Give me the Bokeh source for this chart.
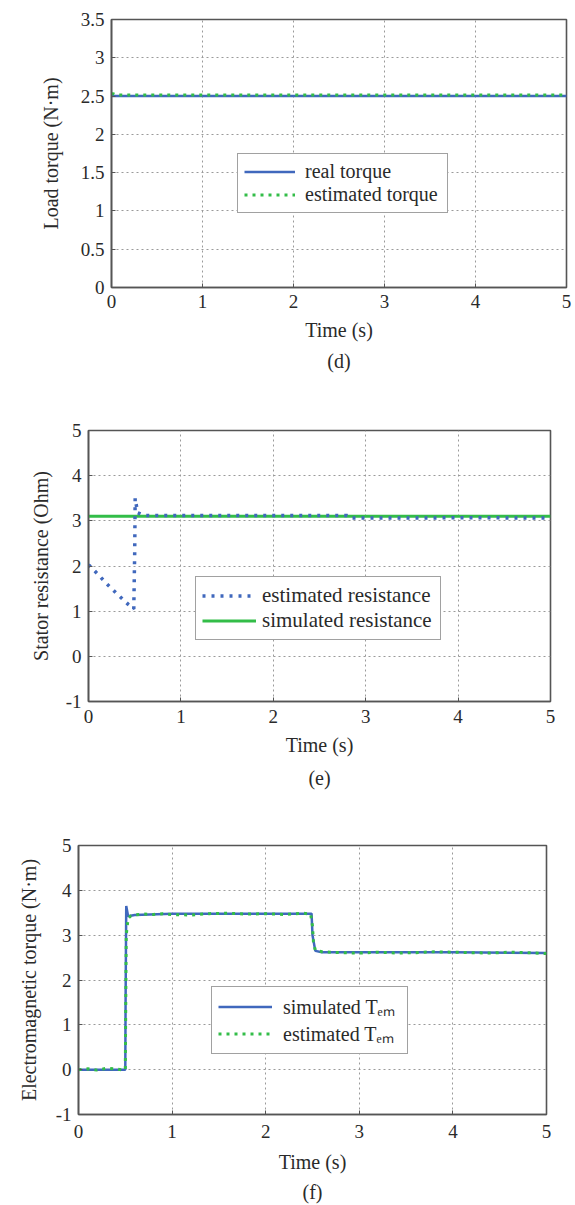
from bokeh.plotting import figure
from bokeh.models import (Legend, LegendItem, LinearAxis, FixedTicker, Range1d)
from bokeh.embed import file_html
from bokeh.resources import INLINE

# ---------------- data ----------------
# (d) load torque
t_d_real = [0.0, 5.0]
torque_real = [2.5, 2.5]
t_d_est = [0.0, 0.02, 0.05, 5.0]
torque_est = [2.53, 2.53, 2.515, 2.515]

# (e) stator resistance
t_e_est = [0.0, 0.1, 0.2, 0.3, 0.43, 0.49, 0.50, 0.505, 0.51, 0.53, 0.6, 1.0,
           2.0, 2.8, 2.85, 3.5, 4.0, 5.0]
res_est = [2.03, 1.82, 1.6, 1.4, 1.15, 1.05, 2.3, 3.5, 3.45, 3.18, 3.12, 3.12,
           3.12, 3.12, 3.06, 3.06, 3.07, 3.06]
t_e_sim = [0.0, 5.0]
res_sim = [3.1, 3.1]

# (f) electromagnetic torque
t_f_sim = [0.0, 0.5, 0.503, 0.51, 0.53, 0.6, 1.0, 2.0, 2.49, 2.5, 2.53, 2.6,
           3.0, 4.0, 5.0]
tem_sim = [0.0, 0.0, 1.5, 3.65, 3.42, 3.45, 3.48, 3.48, 3.48, 3.0, 2.65, 2.62,
           2.62, 2.62, 2.6]
t_f_est = [0.0, 0.1, 0.2, 0.3, 0.4, 0.48, 0.5, 0.505, 0.51, 0.53, 0.56, 0.6,
           0.7, 0.8, 0.9, 1.0, 1.2, 1.4, 1.6, 1.8, 2.0, 2.2, 2.4, 2.48, 2.5,
           2.51, 2.53, 2.6, 2.8, 3.0, 3.2, 3.4, 3.6, 3.8, 4.0, 4.2, 4.4, 4.6,
           4.8, 5.0]
tem_est = [0.0, 0.02, -0.01, 0.03, 0.02, -0.01, 0.0, 1.5, 3.0, 3.38, 3.43, 3.45,
           3.47, 3.46, 3.48, 3.46, 3.45, 3.48, 3.49, 3.47, 3.48, 3.46, 3.49,
           3.47, 3.2, 2.85, 2.66, 2.63, 2.61, 2.6, 2.62, 2.6, 2.61, 2.63, 2.62,
           2.61, 2.6, 2.62, 2.61, 2.59]

x_ticks = [0, 1, 2, 3, 4, 5]
x_tick_labels = ["0", "1", "2", "3", "4", "5"]
y_ticks_d = [0, 0.5, 1, 1.5, 2, 2.5, 3, 3.5]
y_tick_labels_d = ["0", "0.5", "1", "1.5", "2", "2.5", "3", "3.5"]
y_ticks_ef = [-1, 0, 1, 2, 3, 4, 5]
y_tick_labels_ef = ["-1", "0", "1", "2", "3", "4", "5"]

FONT = "'Liberation Serif', serif"
TXT = "#2a2a2a"
BLUE = "#4068bd"
GREEN = "#33bd48"
FRAME = "#555555"


def make_fig(height, b_top, b_bottom, b_left, b_right, yr, yticks, ylabels,
             ylabel, caption, ylab_standoff, tick_standoff_x, xlab_standoff,
             cap_standoff):
    p = figure(width=575, height=height, output_backend="svg",
               toolbar_location=None, x_range=Range1d(0, 5),
               y_range=Range1d(*yr), min_border_top=b_top,
               min_border_bottom=b_bottom, min_border_left=b_left,
               min_border_right=b_right)
    p.outline_line_color = FRAME
    p.outline_line_width = 1.6
    p.background_fill_color = "white"
    p.border_fill_color = "white"
    for ax in (p.xaxis[0], p.yaxis[0]):
        ax.axis_line_color = FRAME
        ax.axis_line_width = 1.6
        ax.major_tick_in = 4
        ax.major_tick_out = 0
        ax.major_tick_line_color = FRAME
        ax.minor_tick_line_color = None
        ax.major_label_text_font = FONT
        ax.major_label_text_font_size = "19px"
        ax.major_label_text_color = TXT
        ax.axis_label_text_font = FONT
        ax.axis_label_text_font_size = "20px"
        ax.axis_label_text_font_style = "normal"
        ax.axis_label_text_color = TXT
    p.xaxis[0].ticker = FixedTicker(ticks=x_ticks)
    p.xaxis[0].major_label_overrides = dict(zip(x_ticks, x_tick_labels))
    p.yaxis[0].ticker = FixedTicker(ticks=yticks)
    p.yaxis[0].major_label_overrides = dict(zip(yticks, ylabels))
    p.xaxis[0].axis_label = "Time (s)"
    p.yaxis[0].axis_label = ylabel
    p.yaxis[0].major_label_standoff = 7
    p.yaxis[0].axis_label_standoff = ylab_standoff
    p.xaxis[0].major_label_standoff = tick_standoff_x
    p.xaxis[0].axis_label_standoff = xlab_standoff
    p.grid.grid_line_color = "#9a9a9a"
    p.grid.grid_line_dash = "2 3"
    p.grid.grid_line_width = 1
    p.xgrid.ticker = FixedTicker(ticks=x_ticks)
    p.ygrid.ticker = FixedTicker(ticks=yticks)

    cap = LinearAxis(ticker=FixedTicker(ticks=[]), axis_line_color=None,
                     major_tick_line_color=None, minor_tick_line_color=None,
                     axis_label=caption,
                     axis_label_text_font=FONT, axis_label_text_font_size="20px",
                     axis_label_text_font_style="normal",
                     axis_label_text_color=TXT, axis_label_standoff=cap_standoff)
    p.add_layout(cap, "below")
    return p


def style_legend(lg, loc, glyph_w, standoff, label_w, font_size):
    lg.location = loc
    lg.label_text_font = FONT
    lg.label_text_font_size = font_size
    lg.label_text_color = TXT
    lg.border_line_color = "#444444"
    lg.border_line_width = 1.5
    lg.background_fill_color = "white"
    lg.background_fill_alpha = 1
    lg.glyph_width = glyph_w
    lg.glyph_height = 21
    lg.label_height = 21
    lg.label_width = label_w
    lg.label_standoff = standoff
    lg.spacing = 0
    lg.padding = 6
    lg.margin = 0


# ---------------- (d) ----------------
pd = make_fig(395, 19, 108, 111, 9, (0, 3.5), y_ticks_d, y_tick_labels_d,
              "Load torque (N·m)", "(d)", 16, 7, 8, 6)
r1 = pd.line(t_d_real, torque_real, line_color=BLUE, line_width=2.5)
r2 = pd.line(t_d_est, torque_est, line_color=GREEN, line_width=3,
             line_dash="3 5")
lg_d = Legend(items=[LegendItem(label="real torque", renderers=[r1]),
                     LegendItem(label="estimated torque", renderers=[r2])])
style_legend(lg_d, (126, 74), 51, 10, 136, "20px")
pd.add_layout(lg_d)

# ---------------- (e) ----------------
pe = make_fig(420, 35, 114, 88, 25, (-1, 5), y_ticks_ef, y_tick_labels_ef,
              "Stator resistance (Ohm)", "(e)", 11, 8, 8, 8)
r4 = pe.line(t_e_sim, res_sim, line_color=GREEN, line_width=3)
r3 = pe.line(t_e_est, res_est, line_color=BLUE, line_width=3.5,
             line_dash="3 6")
lg_e = Legend(items=[LegendItem(label="estimated resistance", renderers=[r3]),
                     LegendItem(label="simulated resistance", renderers=[r4])])
style_legend(lg_e, (107, 61), 54, 6, 172, "21px")
pe.add_layout(lg_e)

# ---------------- (f) ----------------
pf = make_fig(390, 30, 88, 78, 29, (-1, 5), y_ticks_ef, y_tick_labels_ef,
              "Electromagnetic torque (N·m)", "(f)", 13, 10, 10, 5)
r5 = pf.line(t_f_sim, tem_sim, line_color=BLUE, line_width=2.5)
r6 = pf.line(t_f_est, tem_est, line_color=GREEN, line_width=3,
             line_dash="3 5")
lg_f = Legend(items=[LegendItem(label="simulated T\u2091\u2098", renderers=[r5]),
                     LegendItem(label="estimated T\u2091\u2098", renderers=[r6])])
style_legend(lg_f, (133, 60), 54, 11, 118, "20px")
pf.add_layout(lg_f)

open("out.html", "w").write(file_html([pd, pe, pf], INLINE))
